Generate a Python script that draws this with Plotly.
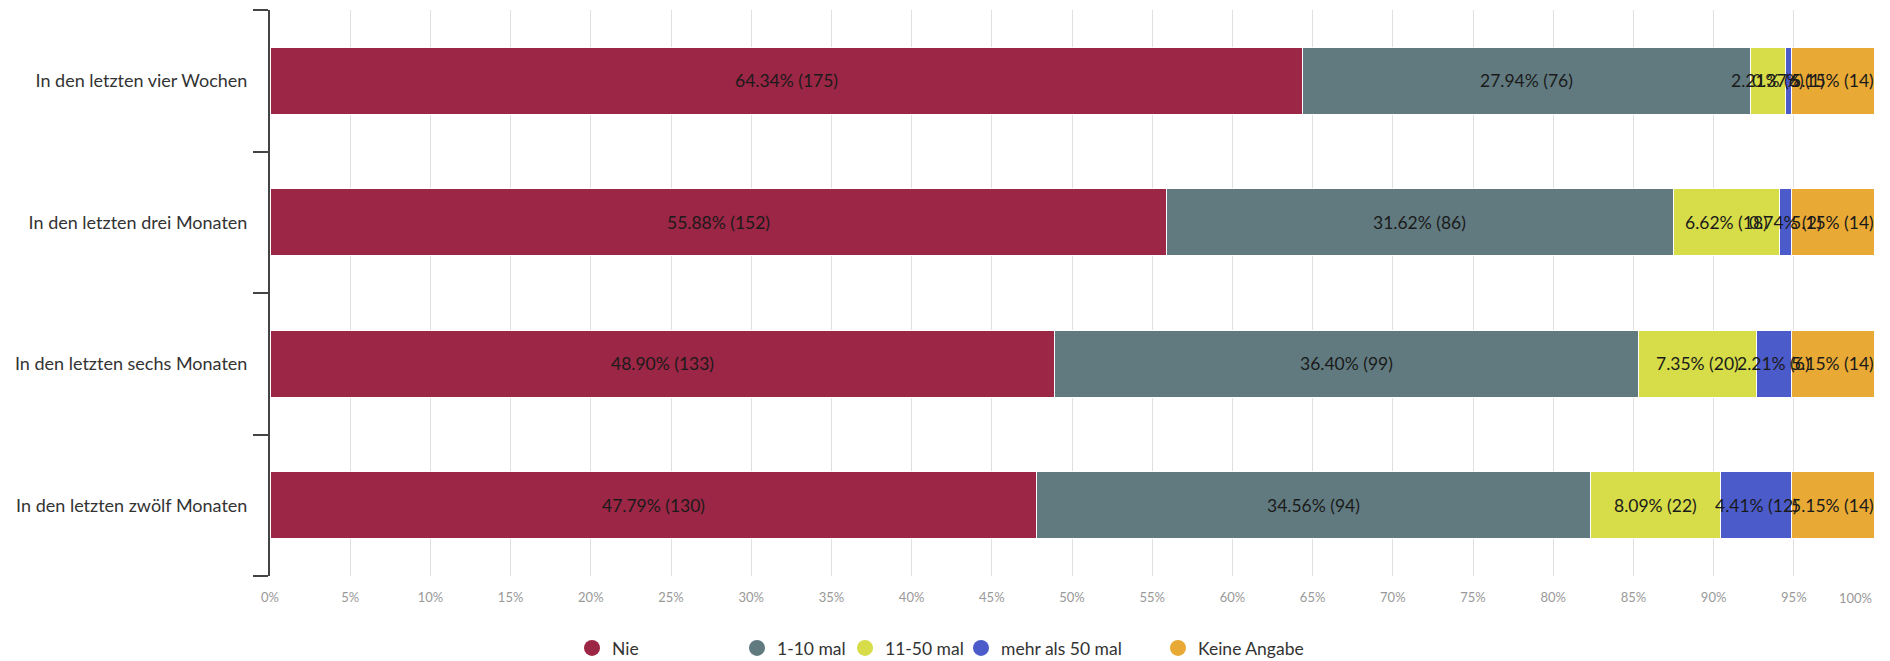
import plotly.graph_objects as go

categories = [
    "In den letzten vier Wochen",
    "In den letzten drei Monaten",
    "In den letzten sechs Monaten",
    "In den letzten zwölf Monaten",
]
series_names = ["Nie", "1-10 mal", "11-50 mal", "mehr als 50 mal", "Keine Angabe"]
counts_nie = [175, 152, 133, 130]
counts_1_10 = [76, 86, 99, 94]
counts_11_50 = [6, 18, 20, 22]
counts_50plus = [1, 2, 6, 12]
counts_keine = [14, 14, 14, 14]
pct_nie = [64.34, 55.88, 48.90, 47.79]
pct_1_10 = [27.94, 31.62, 36.40, 34.56]
pct_11_50 = [2.21, 6.62, 7.35, 8.09]
pct_50plus = [0.37, 0.74, 2.21, 4.41]
pct_keine = [5.15, 5.15, 5.15, 5.15]
x_ticks = list(range(0, 101, 5))
x_tick_labels = [f"{v}%" for v in x_ticks]

colors = ["#9c2645", "#617a80", "#d6dd48", "#4b5bc9", "#e9aa35"]
all_pct = [pct_nie, pct_1_10, pct_11_50, pct_50plus, pct_keine]
all_cnt = [counts_nie, counts_1_10, counts_11_50, counts_50plus, counts_keine]

W, H = 1890, 661
L, R, T, B = 270, 16, 10, 85
plot_w = W - L - R
plot_h = H - T - B

fig = go.Figure()
for name, pct, col in zip(series_names, all_pct, colors):
    fig.add_trace(go.Bar(
        y=categories, x=pct, orientation="h", name=name,
        marker=dict(color=col, line=dict(color="white", width=1)),
        showlegend=False, hoverinfo="x+y+name",
    ))

# data labels centred on each segment (derived from data via cumulative sums)
annotations = []
cum = [0.0] * len(categories)
for pct, cnt in zip(all_pct, all_cnt):
    for i, cat in enumerate(categories):
        annotations.append(dict(
            x=cum[i] + pct[i] / 2, y=cat, xref="x", yref="y",
            text=f"{pct[i]:.2f}% ({cnt[i]})", showarrow=False,
            font=dict(size=17.5, color="#1a1a1a", family="Lato"),
        ))
        cum[i] += pct[i]

# last x tick label is right-aligned inside the chart
tick_text_shown = x_tick_labels[:-1] + [""]
annotations.append(dict(
    x=x_ticks[-1], y=0, xref="x", yref="paper", xanchor="right", yanchor="middle",
    yshift=-22, text=x_tick_labels[-1], showarrow=False,
    font=dict(size=13, color="#999999", family="Lato"),
))

# legend: one legend per series so each entry sits at its own position
legend_px = [572, 737, 845, 961, 1158]
legend_names = ["legend", "legend2", "legend3", "legend4", "legend5"]
layout_legends = {}
for name, col, lg, px in zip(series_names, colors, legend_names, legend_px):
    fig.add_trace(go.Scatter(
        x=[None], y=[None], mode="markers", name=name, legend=lg,
        marker=dict(color=col, size=19, symbol="circle"),
        showlegend=True,
    ))
    layout_legends[lg] = dict(
        orientation="h", x=(px - L) / plot_w, xanchor="left",
        y=-72 / plot_h, yanchor="middle",
        font=dict(size=17.5, color="#333333", family="Lato"),
        itemwidth=30, bgcolor="rgba(0,0,0,0)",
    )

fig.update_layout(
    width=W, height=H,
    barmode="stack", bargap=0.525,
    plot_bgcolor="white", paper_bgcolor="white",
    margin=dict(l=L, r=R, t=T, b=B, autoexpand=False),
    font=dict(family="Lato", color="#333333"),
    annotations=annotations,
    **layout_legends,
)
fig.update_xaxes(
    range=[0, 100], tickvals=x_ticks, ticktext=tick_text_shown,
    showgrid=True, gridcolor="#e0e0e0", gridwidth=1,
    zeroline=False, showline=False, ticks="", automargin=False,
    ticklabelstandoff=12,
    tickfont=dict(size=13, color="#999999", family="Lato"),
)
fig.update_yaxes(
    categoryorder="array", categoryarray=categories[::-1],
    showline=True, linecolor="#444444", linewidth=2,
    ticks="outside", tickson="boundaries", ticklen=15, tickcolor="#444444", tickwidth=2,
    tickfont=dict(size=18, color="#333333", family="Lato"),
    showgrid=False, automargin=False, ticklabelstandoff=17,
)

fig.write_html(
    "out.html",
    config={"displayModeBar": False},
    post_script="document.body.style.margin='0';document.body.style.overflow='hidden';",
)
